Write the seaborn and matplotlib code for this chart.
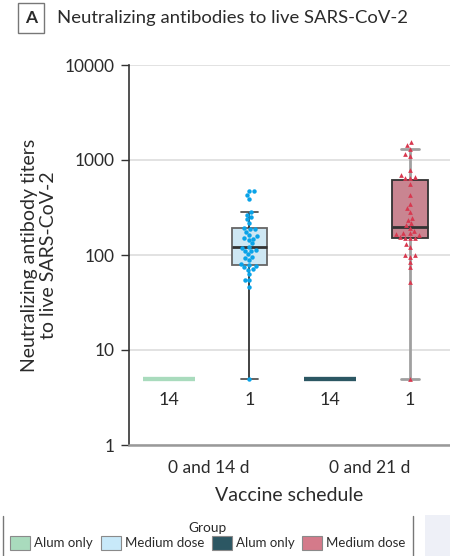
import matplotlib
matplotlib.use("Agg")
import matplotlib.pyplot as plt
from matplotlib.patches import Patch
from matplotlib.lines import Line2D
from matplotlib.ticker import FixedLocator, NullLocator
import numpy as np
import pandas as pd
import seaborn as sns

# groups, in plotting order
groups = ["Alum 14 d", "Medium 14 d", "Alum 21 d", "Medium 21 d"]
legend_labels = ["Alum only", "Medium dose", "Alum only", "Medium dose"]
count_labels = ["14", "1", "14", "1"]
schedules = ["0 and 14 d", "0 and 21 d"]

alum_14 = [5, 5, 5, 5, 5, 5, 5, 5, 5, 5, 5, 5, 5, 5]
medium_14 = [5, 46, 55, 55, 63, 70, 71, 74, 77, 78, 80, 88, 92, 96, 102,
             111, 111, 113, 119, 122, 133, 144, 148, 150, 158, 162, 176,
             188, 188, 194, 216, 237, 251, 266, 282, 388, 427, 470, 472]
alum_21 = [5, 5, 5, 5, 5, 5, 5, 5, 5, 5, 5, 5, 5, 5]
medium_21 = [5, 52, 75, 85, 96, 100, 100, 122, 130, 150, 152, 152, 154, 162,
             165, 169, 169, 179, 191, 207, 215, 234, 243, 282, 311, 342, 427,
             560, 640, 651, 661, 695, 785, 1110, 1156, 1320, 1438, 1535]

face = {"Alum 14 d": "#a9dbbd", "Medium 14 d": "#c8e9f9",
        "Alum 21 d": "#2c5763", "Medium 21 d": "#d47a8a"}
dots = {"Medium 14 d": "#0aa3e8", "Medium 21 d": "#d8384f"}

df = pd.concat([
    pd.DataFrame({"group": g, "titer": v})
    for g, v in zip(groups, [alum_14, medium_14, alum_21, medium_21])
], ignore_index=True)

sns.set_style("white")
plt.rcParams["font.family"] = ["Lato", "DejaVu Sans"]
text_c = "#2b2b2b"

fig = plt.figure(figsize=(4.5, 5.56), dpi=100)
ax = fig.add_axes([129 / 450, 1 - 445 / 556, 321 / 450, 380 / 556])

# alum groups: all titers at the detection limit -> flat bar
for g in ["Alum 14 d", "Alum 21 d"]:
    sns.boxplot(data=df[df.group == g], x="group", y="titer", order=groups,
                width=0.65, color=face[g], linecolor=face[g], linewidth=3,
                showcaps=False, showfliers=False, ax=ax)

sns.boxplot(data=df[df.group == "Medium 14 d"], x="group", y="titer", order=groups,
            width=0.44, color=face["Medium 14 d"], linecolor="#666666", linewidth=1.3,
            showfliers=False,
            whiskerprops={"color": "#333333"}, capprops={"color": "#555555"},
            medianprops={"color": "#333333", "linewidth": 2}, ax=ax)
sns.boxplot(data=df[df.group == "Medium 21 d"], x="group", y="titer", order=groups,
            width=0.44, color=face["Medium 21 d"], linecolor="#333333", linewidth=1.3,
            showfliers=False,
            whiskerprops={"color": "#a0a0a0", "linewidth": 2},
            capprops={"color": "#a0a0a0", "linewidth": 2},
            medianprops={"color": "#333333", "linewidth": 2}, ax=ax)
for patch in ax.patches:
    patch.set_alpha(1)

ax.set_yscale("log")
ax.set_ylim(1, 10000)
ax.set_xlim(-0.467, 3.424)

sns.swarmplot(data=df[df.group == "Medium 14 d"], x="group", y="titer", order=groups,
              color=dots["Medium 14 d"], marker="o", size=3.2, linewidth=0, ax=ax)
sns.swarmplot(data=df[df.group == "Medium 21 d"], x="group", y="titer", order=groups,
              color=dots["Medium 21 d"], marker="^", size=3.4, linewidth=0, ax=ax)

for i, lab in enumerate(count_labels):
    ax.text(i, 3.0, lab, ha="center", va="center", fontsize=13, color=text_c)

ax.yaxis.set_major_locator(FixedLocator([1, 10, 100, 1000, 10000]))
ax.yaxis.set_minor_locator(NullLocator())
ax.set_yticklabels(["1", "10", "100", "1000", "10000"])
ax.set_xticks([0.5, 2.5])
ax.set_xticklabels(schedules)
ax.tick_params(axis="y", length=6, width=1, color="#333333", labelsize=12.5,
               labelcolor=text_c, pad=4, left=True)
ax.tick_params(axis="x", length=0, labelsize=12.5, labelcolor=text_c, pad=11)
ax.grid(axis="y", color="#dddddd", linewidth=1.2)
ax.set_axisbelow(True)
for s in ["top", "right"]:
    ax.spines[s].set_visible(False)
ax.spines["left"].set_color("#333333")
ax.spines["left"].set_linewidth(1.2)
ax.spines["bottom"].set_color("#999999")
ax.spines["bottom"].set_linewidth(1.8)
ax.set_xlabel("Vaccine schedule", fontsize=14, color=text_c, labelpad=8)
ax.set_ylabel("Neutralizing antibody titers\nto live SARS-CoV-2", fontsize=14,
              color=text_c, labelpad=6, linespacing=1.1)

# title with boxed panel letter
fig.text(31 / 450, 1 - 18 / 556, "A", ha="center", va="center", fontsize=12.5,
         fontweight="bold", color=text_c,
         bbox=dict(boxstyle="square,pad=0.38", facecolor="white", edgecolor="#777777"))
fig.text(57 / 450, 1 - 18 / 556, "Neutralizing antibodies to live SARS-CoV-2",
         ha="left", va="center", fontsize=13.3, color=text_c)

# legend strip at the bottom
handles = [Patch(facecolor=face[g], edgecolor="#8a8a8a", linewidth=0.8) for g in groups]
leg = fig.legend(handles, legend_labels, title="Group", ncol=4, frameon=False,
                 loc="upper center", bbox_to_anchor=(208 / 450, 1 - 519 / 556),
                 fontsize=9.5, title_fontsize=9.8, handlelength=1.5, handleheight=1.2,
                 handletextpad=0.3, columnspacing=0.6, borderaxespad=0,
                 borderpad=0.2, labelspacing=0.2)
leg.get_title().set_color(text_c)
for t in leg.get_texts():
    t.set_color(text_c)
for xp in [3, 413]:
    fig.add_artist(Line2D([xp / 450, xp / 450], [0, 1 - 516 / 556],
                          color="#777777", linewidth=1, transform=fig.transFigure))
fig.add_artist(plt.Rectangle((425 / 450, 0), 25 / 450, 41 / 556, facecolor="#eef0f7",
                             edgecolor="none", transform=fig.transFigure))

fig.savefig("out.png", dpi=100)
